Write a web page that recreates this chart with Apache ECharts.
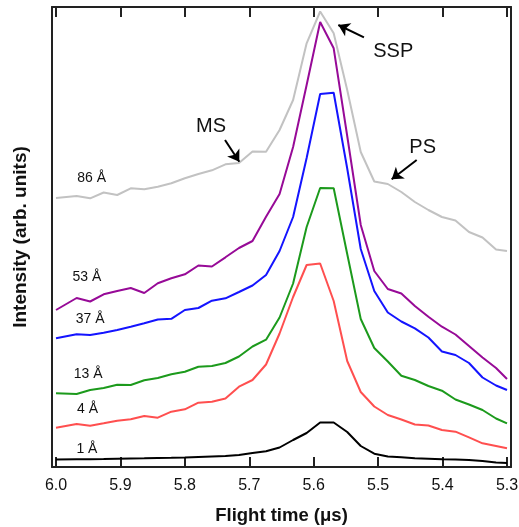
<!DOCTYPE html>
<html>
<head>
<meta charset="utf-8">
<script src="https://cdn.jsdelivr.net/npm/echarts@6/dist/echarts.min.js"></script>
<style>
  html, body { margin: 0; padding: 0; background: #fff; }
  #chart { width: 519px; height: 527px; }
</style>
</head>
<body>
<div id="chart"></div>
<script>
// Flight time axis (μs), shared by all spectra
const flightTime = [6.000, 5.968, 5.947, 5.926, 5.905, 5.884, 5.863, 5.842, 5.821, 5.800,
  5.779, 5.758, 5.737, 5.716, 5.695, 5.674, 5.653, 5.632, 5.611, 5.590,
  5.569, 5.548, 5.527, 5.506, 5.485, 5.464, 5.443, 5.422, 5.401, 5.380,
  5.359, 5.338, 5.317, 5.300];

// Intensity (arb. units, offset for clarity) per film thickness
const int86 = [269, 271, 268.7, 274.5, 272, 278.7, 277.7, 280.3, 283.7, 288.7,
  293, 296.7, 302.7, 304, 315.5, 315.3, 337, 367, 423.7, 455.5,
  433.7, 377, 315, 285.5, 283, 275, 265, 257, 250, 246.5,
  235, 229.5, 217.5, 216];
const int53 = [157, 169, 165.5, 172.7, 176, 179, 174, 183.7, 188.7, 192.7,
  201.5, 200.5, 209.7, 219, 226, 250.3, 273, 320, 382, 445,
  418.7, 331, 242, 196, 178, 173.5, 161, 150.3, 140.3, 132.5,
  121, 109.5, 99, 88];
const int37 = [128.7, 132.7, 132, 134.3, 137, 140.3, 143.7, 147.5, 148.2, 157,
  159, 166.3, 168.7, 175, 181.5, 192, 216, 250, 309, 373,
  374.3, 298.5, 218, 176, 154.5, 145.5, 138.7, 129.5, 115.5, 112,
  104, 89.5, 81.5, 77];
const int13 = [73.7, 73, 77, 79, 82.3, 82, 86.7, 89, 92.8, 95.3,
  100.3, 101, 104, 110.5, 120.5, 127.3, 149.5, 183.5, 240, 279,
  278.7, 213, 148, 119, 105.5, 91.3, 87, 81, 76.3, 67.5,
  62.5, 57, 48.5, 43.7];
const int4 = [39.3, 43, 41.3, 43.7, 46.3, 47.7, 51, 49.3, 55.3, 57.7,
  64.3, 65.3, 68.5, 80.3, 87, 102.5, 133.5, 170, 202, 203.5,
  166, 106, 75, 60.5, 52, 47.5, 42.5, 41.5, 37, 35.3,
  29.7, 23.7, 21, 18.7];
const int1 = [7.5, 7.7, 7.8, 8, 8.3, 8.5, 8.7, 9, 9.2, 9.5,
  10, 10.5, 11, 12, 14, 15.7, 19.5, 27, 34, 44.5,
  44.5, 35, 21, 13.3, 10.5, 9.7, 8.8, 8.3, 7.8, 7.5,
  7, 6, 4.5, 4];

const thicknessLabels = ['86 Å', '53 Å', '37 Å', '13 Å', '4 Å', '1 Å'];
const xTicks = [6.0, 5.9, 5.8, 5.7, 5.6, 5.5, 5.4, 5.3];

// Where each thickness label sits, in data coordinates
const labelAnchor = {
  '86 Å': [5.9446, 288.7],
  '53 Å': [5.952, 190.3],
  '37 Å': [5.947, 147.7],
  '13 Å': [5.950, 92.7],
  '4 Å': [5.951, 57.7],
  '1 Å': [5.952, 18]
};
// Feature annotations: text anchor, arrow tail, arrow tip (data coordinates)
const features = [
  { name: 'SSP', text: [5.4765, 415.3], from: [5.5220, 429.7], to: [5.5618, 442.0] },
  { name: 'MS',  text: [5.7594, 340.3], from: [5.7377, 327.0], to: [5.7155, 305.3] },
  { name: 'PS',  text: [5.4309, 319.5], from: [5.4402, 307.0], to: [5.4790, 287.7] }
];

const FONT = '"Liberation Sans", Arial, Helvetica, sans-serif';
const frameColor = '#222';

function pairs(ys) {
  return flightTime.map((t, i) => [t, ys[i]]);
}

function labelMark(name) {
  return {
    symbol: 'rect',
    symbolSize: 1,
    silent: true,
    itemStyle: { color: 'rgba(0,0,0,0)' },
    label: {
      show: true, position: 'inside', formatter: '{b}',
      fontFamily: FONT, fontSize: 14, color: '#111'
    },
    data: [{ name: name, coord: labelAnchor[name] }]
  };
}

const spectra = [
  { name: '86 Å', data: int86, color: '#c2c2c2' },
  { name: '53 Å', data: int53, color: '#970a97' },
  { name: '37 Å', data: int37, color: '#1414ff' },
  { name: '13 Å', data: int13, color: '#1c9a1c' },
  { name: '4 Å', data: int4, color: '#ff4f4f' },
  { name: '1 Å', data: int1, color: '#000000' }
];

const series = spectra.map(s => ({
  name: s.name,
  type: 'line',
  data: pairs(s.data),
  showSymbol: false,
  symbol: 'none',
  lineStyle: { color: s.color, width: 2 },
  emphasis: { disabled: true },
  markPoint: labelMark(s.name)
}));

// Arrows and feature names ride on the top spectrum
series[0].markLine = {
  silent: true,
  symbol: ['none', 'arrow'],
  symbolSize: 11,
  lineStyle: { color: '#000', width: 2, type: 'solid' },
  label: { show: false },
  data: features.map(f => [{ coord: f.from }, { coord: f.to }])
};
series[0].markPoint = {
  symbol: 'rect',
  symbolSize: 1,
  silent: true,
  itemStyle: { color: 'rgba(0,0,0,0)' },
  label: {
    show: true, position: 'inside', formatter: '{b}',
    fontFamily: FONT, fontSize: 14, color: '#111'
  },
  data: [{ name: '86 Å', coord: labelAnchor['86 Å'] }].concat(
    features.map(f => ({
      name: f.name, coord: f.text,
      label: { fontSize: 20, color: '#111', fontFamily: FONT }
    }))
  )
};

const xRange = { min: 5.29379, max: 6.00621 };

const chart = echarts.init(document.getElementById('chart'), null, { renderer: 'canvas' });
chart.setOption({
  animation: false,
  backgroundColor: '#fff',
  grid: { left: 52, right: 8, top: 7, bottom: 60, containLabel: false, outerBoundsMode: 'none' },
  xAxis: [
    {
      type: 'value', position: 'bottom', inverse: true,
      min: xRange.min, max: xRange.max,
      name: 'Flight time (μs)', nameLocation: 'middle', nameGap: 39,
      nameTextStyle: { fontFamily: FONT, fontSize: 18.5, fontWeight: 'bold', color: '#111' },
      axisLine: { show: true, onZero: false, lineStyle: { color: frameColor, width: 2 } },
      axisTick: { show: true, inside: true, length: 10, customValues: xTicks,
        lineStyle: { color: frameColor, width: 2 } },
      axisLabel: { show: true, customValues: xTicks, margin: 11,
        formatter: v => v.toFixed(1),
        fontFamily: FONT, fontSize: 16, color: '#111' },
      splitLine: { show: false }
    },
    {
      type: 'value', position: 'top', inverse: true,
      min: xRange.min, max: xRange.max,
      axisLine: { show: true, onZero: false, lineStyle: { color: frameColor, width: 2 } },
      axisTick: { show: true, inside: true, length: 10, customValues: xTicks,
        lineStyle: { color: frameColor, width: 2 } },
      axisLabel: { show: false },
      splitLine: { show: false }
    }
  ],
  yAxis: [
    {
      type: 'value', position: 'left', min: 0, max: 460,
      name: 'Intensity (arb. units)', nameLocation: 'middle', nameGap: 22,
      nameTextStyle: { fontFamily: FONT, fontSize: 19, fontWeight: 'bold', color: '#111' },
      axisLine: { show: true, onZero: false, lineStyle: { color: frameColor, width: 2 } },
      axisTick: { show: false },
      axisLabel: { show: false },
      splitLine: { show: false }
    },
    {
      type: 'value', position: 'right', min: 0, max: 460,
      axisLine: { show: true, onZero: false, lineStyle: { color: frameColor, width: 2 } },
      axisTick: { show: false },
      axisLabel: { show: false },
      splitLine: { show: false }
    }
  ],
  series: series
});
</script>
</body>
</html>
